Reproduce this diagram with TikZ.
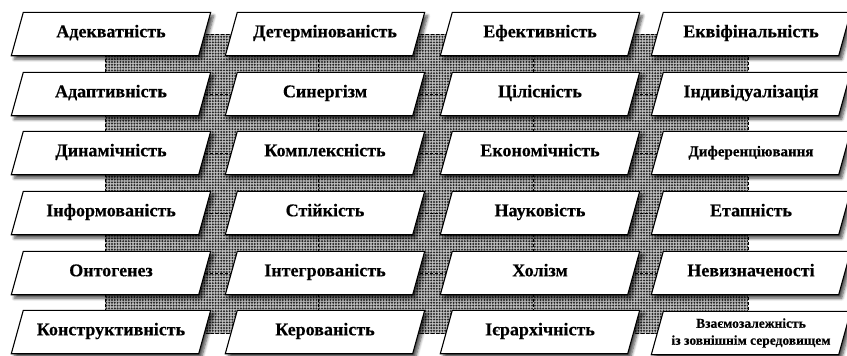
\documentclass[tikz,border=0pt]{standalone}
\usepackage{fontspec}
\setmainfont{Liberation Serif}[BoldFeatures={FakeBold=0.4}]
\usetikzlibrary{shadows.blur,patterns.meta}
\pgfdeclarelayer{patternlayer}
\pgfdeclarelayer{boxlayer}
\pgfsetlayers{patternlayer,boxlayer,main}
\tikzset{
  pbox/.style={shape=rectangle, draw=none, minimum width=187pt, minimum height=43pt,
    inner sep=0pt, text height=0.66em, text depth=0pt,
    font=\fontsize{18}{20}\selectfont\bfseries, align=center},
  pshape/.style={draw=black, line width=1.1pt, fill=white, line join=miter,
    blur shadow={shadow xshift=3pt, shadow yshift=-3.5pt, shadow blur steps=6,
      shadow blur radius=3pt, shadow opacity=70}},
  gridline/.style={line width=0.8pt, dash pattern=on 3pt off 2pt},
}
\begin{document}
\begin{tikzpicture}[x=1pt,y=-1pt]
\useasboundingbox (0,0) rectangle (847,356);
\node[pbox] (n11) at (111,34) {Адекватність};
\node[pbox] (n12) at (325,34) {Детермінованість};
\node[pbox] (n13) at (540,34) {Ефективність};
\node[pbox] (n14) at (751,34) {Еквіфінальність};
\node[pbox] (n21) at (111,94) {Адаптивність};
\node[pbox] (n22) at (325,94) {Синергізм};
\node[pbox] (n23) at (540,94) {Цілісність};
\node[pbox] (n24) at (751,94) {Індивідуалізація};
\node[pbox] (n31) at (111,153) {Динамічність};
\node[pbox] (n32) at (325,153) {Комплексність};
\node[pbox] (n33) at (540,153) {Економічність};
\node[pbox, font=\fontsize{15}{17}\selectfont\bfseries] (n34) at (751,153) {Диференціювання};
\node[pbox] (n41) at (111,213) {Інформованість};
\node[pbox] (n42) at (325,213) {Стійкість};
\node[pbox] (n43) at (540,213) {Науковість};
\node[pbox] (n44) at (751,213) {Етапність};
\node[pbox] (n51) at (111,273) {Онтогенез};
\node[pbox] (n52) at (325,273) {Інтегрованість};
\node[pbox] (n53) at (540,273) {Холізм};
\node[pbox] (n54) at (751,273) {Невизначеності};
\node[pbox] (n61) at (111,332) {Конструктивність};
\node[pbox] (n62) at (325,332) {Керованість};
\node[pbox] (n63) at (540,332) {Ієрархічність};
\node[pbox, font=\fontsize{13.5}{17}\selectfont\bfseries, text height=, text depth=] (n64) at (751,333) {Взаємозалежність\\із зовнішнім середовищем};
\begin{pgfonlayer}{boxlayer}
  \foreach \r in {1,...,6}{
    \foreach \c in {1,...,4}{
      \draw[pshape] ([xshift=6pt]n\r\c.north west) -- ([xshift=6pt]n\r\c.north east)
        -- ([xshift=-6pt]n\r\c.south east) -- ([xshift=-6pt]n\r\c.south west) -- cycle;
    }
  }
\end{pgfonlayer}
\begin{pgfonlayer}{patternlayer}
  \fill[black!25] ([xshift=-6pt]n11.center) rectangle ([xshift=-3pt]n64.center);
  \fill[pattern={Dots[distance=2.8pt, radius=1.1pt]}, pattern color=black!85]
    ([xshift=-6pt]n11.center) rectangle ([xshift=-3pt]n64.center);
  \draw[gridline] ([xshift=-6pt]n11.center) rectangle ([xshift=-3pt]n64.center);
  \foreach \r in {2,3,4,5}{
    \draw[gridline] ([xshift=-6pt]n\r1.center) -- ([xshift=-3pt]n\r4.center);
  }
  \foreach \c in {2,3}{
    \draw[gridline] ([xshift=-7pt]n1\c.center) -- ([xshift=-7pt]n6\c.center);
  }
\end{pgfonlayer}
\end{tikzpicture}
\end{document}
